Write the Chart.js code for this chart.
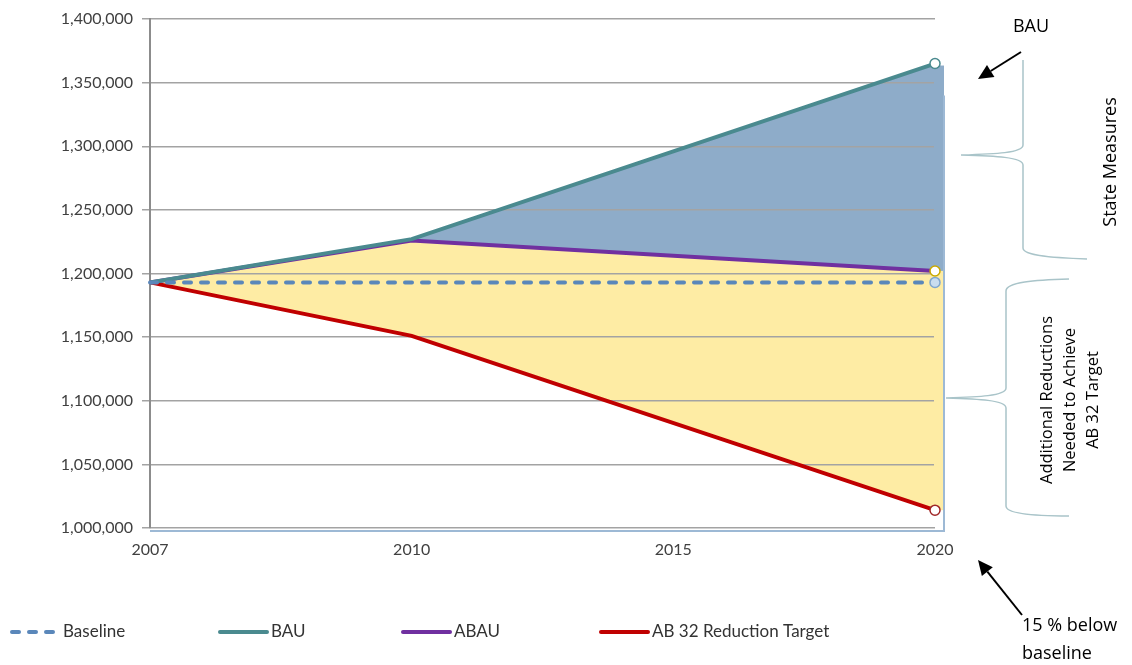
<!DOCTYPE html>
<html>
<head>
<meta charset="utf-8">
<script src="https://cdn.jsdelivr.net/npm/chart.js@4.4.0/dist/chart.umd.min.js"></script>
<style>
html, body { margin: 0; padding: 0; background: #fff; }
#contenedor { position: relative; width: 1132px; height: 665px; }
</style>
</head>
<body>
<div id="contenedor"><canvas id="grafica" width="1132" height="665"></canvas></div>
<script>
/**************************************
 * 1. DATOS
 **************************************/
const anios = ["2007", "2010", "2015", "2020"];
const baseline = [1193000, 1193000, 1193000, 1193000];
const bau = [1193000, 1227000, null, 1365000];
const abau = [1193000, 1226000, null, 1202000];
const ab32 = [1193000, 1151000, null, 1014000];
const ejeYMin = 1000000;
const ejeYMax = 1400000;
const ejeYPaso = 50000;

const nombres = ["Baseline", "BAU", "ABAU", "AB 32 Reduction Target"];

// Colores
const COL_BASE = "#5A87BA";
const COL_BAU = "#4A8A8F";
const COL_ABAU = "#7030A0";
const COL_AB32 = "#C00000";
const RELLENO_AZUL = "#8EACC9";
const RELLENO_AMARILLO = "#FEECA4";
const COL_LLAVE = "#A9C4C9";

const soloUltimo = [0, 0, 0, 5];

/**************************************
 * 2. ANOTACIONES Y LEYENDA (plugin)
 **************************************/
function flecha(ctx, x1, y1, x2, y2) {
    const ang = Math.atan2(y2 - y1, x2 - x1);
    const largo = 15, ancho = 7;
    const bx = x2 - largo * Math.cos(ang), by = y2 - largo * Math.sin(ang);
    ctx.strokeStyle = "#000";
    ctx.fillStyle = "#000";
    ctx.lineWidth = 2;
    ctx.beginPath();
    ctx.moveTo(x1, y1);
    ctx.lineTo(bx, by);
    ctx.stroke();
    ctx.beginPath();
    ctx.moveTo(x2, y2);
    ctx.lineTo(bx + ancho * Math.sin(ang), by - ancho * Math.cos(ang));
    ctx.lineTo(bx - ancho * Math.sin(ang), by + ancho * Math.cos(ang));
    ctx.closePath();
    ctx.fill();
}

const anotaciones = {
    id: "anotaciones",
    beforeDatasetsDraw(chart) {
        // borde derecho estilo "recorte" del área
        const ctx = chart.ctx;
        const { right, bottom, left } = chart.chartArea;
        const y = chart.scales.y;
        const yBau = y.getPixelForValue(bau[3]);
        const yAbau = y.getPixelForValue(abau[3]);
        const yAb32 = y.getPixelForValue(ab32[3]);
        ctx.save();
        ctx.fillStyle = RELLENO_AZUL;
        ctx.fillRect(right - 1, yBau + 2, 10, yAbau - yBau - 2);
        ctx.fillStyle = RELLENO_AMARILLO;
        ctx.fillRect(right - 1, yAbau, 9, yAb32 - yAbau);
        ctx.strokeStyle = "#9DB9D5";
        ctx.lineWidth = 2;
        ctx.beginPath();
        ctx.moveTo(right + 9, yBau + 32);
        ctx.lineTo(right + 9, bottom + 3);
        ctx.lineTo(left, bottom + 3);
        ctx.stroke();
        ctx.restore();
    },
    afterDraw(chart) {
        const ctx = chart.ctx;
        ctx.save();

        // --- textos y flechas ---
        ctx.fillStyle = "#000";
        ctx.font = "18px 'Open Sans'";
        ctx.textAlign = "center";
        ctx.textBaseline = "middle";
        ctx.fillText("BAU", 1031, 27);
        flecha(ctx, 1021, 52, 978, 79);

        ctx.textAlign = "left";
        ctx.fillText("15 % below", 1022, 626);
        ctx.fillText("baseline", 1022, 654);
        flecha(ctx, 1022, 615, 978, 560);

        // texto rotado
        ctx.save();
        ctx.translate(1111, 162);
        ctx.rotate(-Math.PI / 2);
        ctx.textAlign = "center";
        ctx.fillText("State Measures", 0, 0);
        ctx.restore();

        ctx.save();
        ctx.translate(1070, 400);
        ctx.rotate(-Math.PI / 2);
        ctx.textAlign = "center";
        ctx.font = "16.5px 'Open Sans'";
        ctx.fillText("Additional Reductions", 0, -23);
        ctx.fillText("Needed to Achieve", 0, 0);
        ctx.fillText("AB 32 Target", 0, 23);
        ctx.restore();

        // --- llaves ---
        ctx.strokeStyle = COL_LLAVE;
        ctx.lineWidth = 1.5;
        ctx.beginPath();
        ctx.moveTo(1023, 60);
        ctx.lineTo(1023, 145);
        ctx.bezierCurveTo(1023, 153, 995, 154, 961, 155);
        ctx.moveTo(961, 155);
        ctx.bezierCurveTo(995, 156, 1023, 157, 1023, 165);
        ctx.lineTo(1023, 248);
        ctx.bezierCurveTo(1023, 256, 1055, 258, 1087, 259);
        ctx.stroke();

        ctx.beginPath();
        ctx.moveTo(1069, 279);
        ctx.bezierCurveTo(1035, 280, 1006, 282, 1006, 291);
        ctx.lineTo(1006, 388);
        ctx.bezierCurveTo(1006, 396, 978, 397, 946, 398);
        ctx.moveTo(946, 398);
        ctx.bezierCurveTo(978, 399, 1006, 400, 1006, 408);
        ctx.lineTo(1006, 506);
        ctx.bezierCurveTo(1006, 514, 1035, 516, 1069, 516);
        ctx.stroke();

        // --- leyenda ---
        const posX = [10, 218, 401, 599];
        const yLeyenda = 632;
        ctx.font = "17px Lato";
        ctx.textAlign = "left";
        ctx.textBaseline = "middle";
        chart.data.datasets.forEach((ds, i) => {
            const x = posX[i];
            ctx.strokeStyle = ds.borderColor;
            ctx.lineWidth = 4;
            ctx.lineCap = "round";
            ctx.setLineDash(ds.borderDash || []);
            ctx.beginPath();
            ctx.moveTo(x + 2, yLeyenda);
            ctx.lineTo(x + 49, yLeyenda);
            ctx.stroke();
            ctx.setLineDash([]);
            ctx.fillStyle = "#333";
            ctx.fillText(nombres[i], x + 53, yLeyenda);
        });

        ctx.restore();
    }
};

/**************************************
 * 3. GRÁFICA
 **************************************/
new Chart(document.getElementById("grafica"), {
    type: "line",
    data: {
        labels: anios,
        datasets: [
            {
                label: nombres[0],
                data: baseline,
                borderColor: COL_BASE,
                borderWidth: 4,
                borderDash: [7, 10],
                borderCapStyle: "round",
                fill: false,
                pointRadius: soloUltimo,
                pointBackgroundColor: "#C9DDF0",
                pointBorderColor: "#7FA6CF",
                pointBorderWidth: 1.5
            },
            {
                label: nombres[1],
                data: bau,
                borderColor: COL_BAU,
                borderWidth: 4,
                fill: "+1",
                backgroundColor: RELLENO_AZUL,
                pointRadius: soloUltimo,
                pointBackgroundColor: "#fff",
                pointBorderColor: COL_BAU,
                pointBorderWidth: 1.5
            },
            {
                label: nombres[2],
                data: abau,
                borderColor: COL_ABAU,
                borderWidth: 4,
                fill: "+1",
                backgroundColor: RELLENO_AMARILLO,
                pointRadius: soloUltimo,
                pointBackgroundColor: "#fff",
                pointBorderColor: "#C9A800",
                pointBorderWidth: 1.5
            },
            {
                label: nombres[3],
                data: ab32,
                borderColor: COL_AB32,
                borderWidth: 4,
                fill: false,
                pointRadius: soloUltimo,
                pointBackgroundColor: "#fff",
                pointBorderColor: "#A02828",
                pointBorderWidth: 1.5
            }
        ]
    },
    options: {
        responsive: false,
        animation: false,
        spanGaps: true,
        layout: { padding: { left: 0, right: 197, top: 19, bottom: 107 } },
        elements: { line: { tension: 0 } },
        plugins: {
            legend: { display: false },
            tooltip: { enabled: false },
            filler: { drawTime: "beforeDraw" }
        },
        scales: {
            x: {
                offset: false,
                afterFit: s => { s.height = 30; },
                grid: { display: false },
                border: { display: false },
                ticks: {
                    color: "#404040",
                    font: { family: "Lato", size: 16 },
                    padding: 4,
                    maxRotation: 0
                }
            },
            y: {
                min: ejeYMin,
                max: ejeYMax,
                afterFit: s => { s.width = 150; },
                ticks: {
                    stepSize: ejeYPaso,
                    color: "#404040",
                    font: { family: "Lato", size: 16 },
                    padding: 9,
                    callback: v => v.toLocaleString("en-US")
                },
                grid: {
                    color: "#A3A3A3",
                    lineWidth: 1.5,
                    tickLength: 8
                },
                border: { color: "#8C8C8C", width: 2 }
            }
        }
    },
    plugins: [anotaciones]
});
</script>
</body>
</html>
